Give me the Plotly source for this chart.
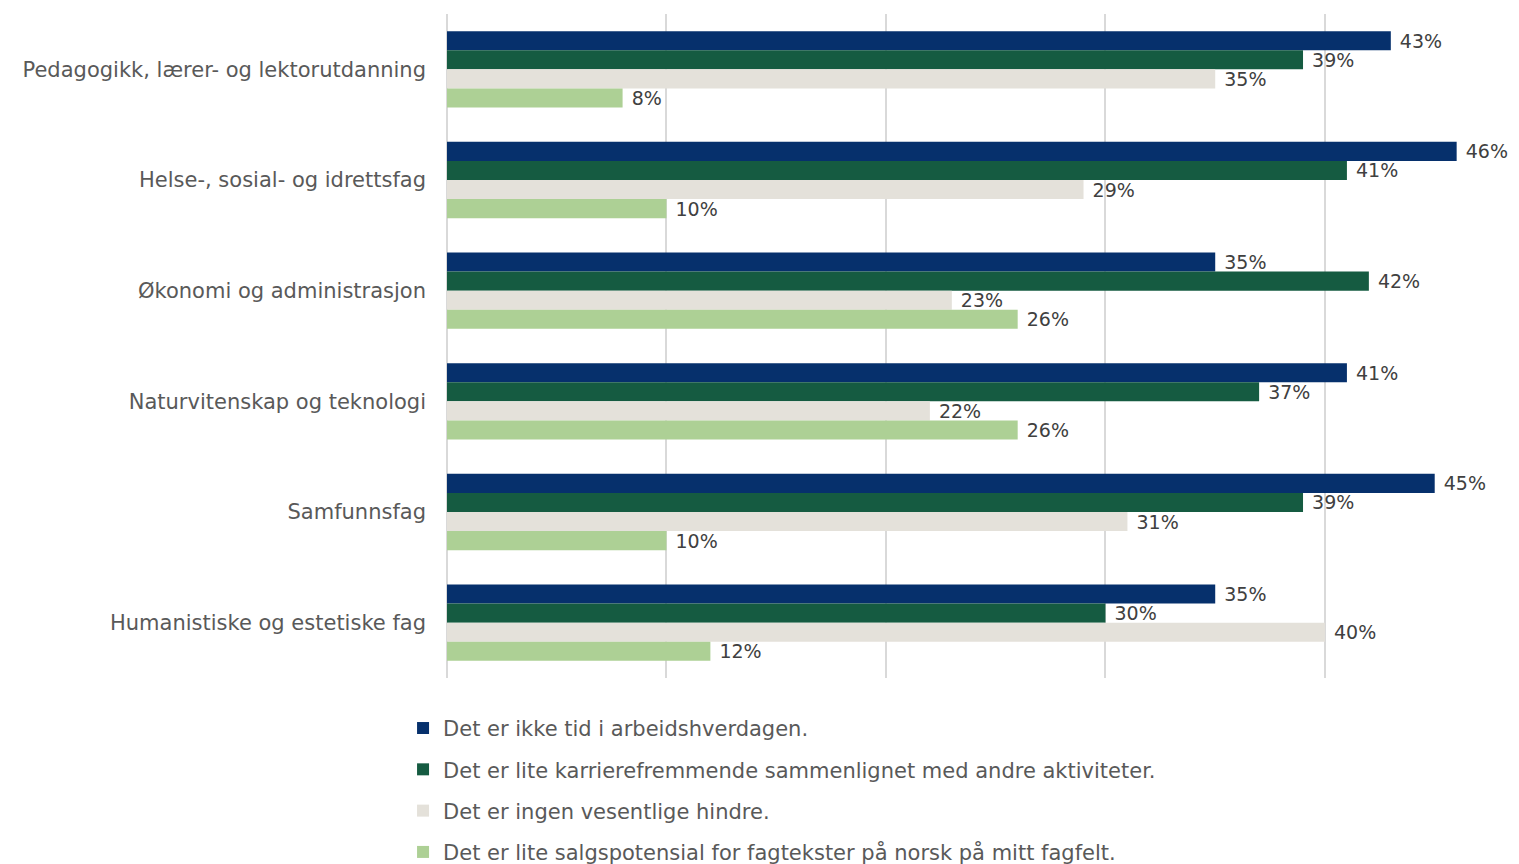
import plotly.graph_objects as go

categories = [
    "Pedagogikk, lærer- og lektorutdanning",
    "Helse-, sosial- og idrettsfag",
    "Økonomi og administrasjon",
    "Naturvitenskap og teknologi",
    "Samfunnsfag",
    "Humanistiske og estetiske fag",
]
series_names = [
    "Det er ikke tid i arbeidshverdagen.",
    "Det er lite karrierefremmende sammenlignet med andre aktiviteter.",
    "Det er ingen vesentlige hindre.",
    "Det er lite salgspotensial for fagtekster på norsk på mitt fagfelt.",
]
ikke_tid = [0.43, 0.46, 0.35, 0.41, 0.45, 0.35]
lite_karriere = [0.39, 0.41, 0.42, 0.37, 0.39, 0.30]
ingen_hindre = [0.35, 0.29, 0.23, 0.22, 0.31, 0.40]
lite_salg = [0.08, 0.10, 0.26, 0.26, 0.10, 0.12]
series_values = [ikke_tid, lite_karriere, ingen_hindre, lite_salg]
colors = ["#06306C", "#155B41", "#E4E1DA", "#ADD095"]

FONT = "DejaVu Sans"

fig = go.Figure()
for i, (name, vals, col) in enumerate(zip(series_names, series_values, colors)):
    fig.add_trace(go.Bar(
        y=categories, x=vals, name=name, orientation="h",
        marker=dict(color=col, line=dict(width=0)),
        text=vals, texttemplate="\u00a0%{x:.0%}",
        textposition="outside", cliponaxis=False, constraintext="none",
        textfont=dict(family=FONT, size=19, color="#404040"),
        legendgroup=f"g{i}",
    ))

fig.update_layout(
    width=1511, height=856,
    barmode="group", bargap=0.31, bargroupgap=0,
    plot_bgcolor="white", paper_bgcolor="white",
    margin=dict(l=439, r=0, t=6, b=186, autoexpand=False),
    font=dict(family=FONT, size=21, color="#595959"),
    showlegend=True,
    legend=dict(
        orientation="v", x=-0.041, xanchor="left", y=-0.045, yanchor="top",
        font=dict(family=FONT, size=21, color="#595959"),
        tracegroupgap=11, traceorder="grouped", itemwidth=30,
    ),
    xaxis=dict(
        range=[0, 0.4884], showticklabels=False, showgrid=True,
        gridcolor="#D9D9D9", gridwidth=1.5, dtick=0.1, zeroline=True,
        zerolinecolor="#D9D9D9", zerolinewidth=1.5, showline=False, ticks="",
    ),
    yaxis=dict(
        autorange="reversed", showgrid=False, showline=False, ticks="",
        tickfont=dict(family=FONT, size=21, color="#595959"),
        ticklabelstandoff=20,
    ),
)

fig.write_html("out.html")
